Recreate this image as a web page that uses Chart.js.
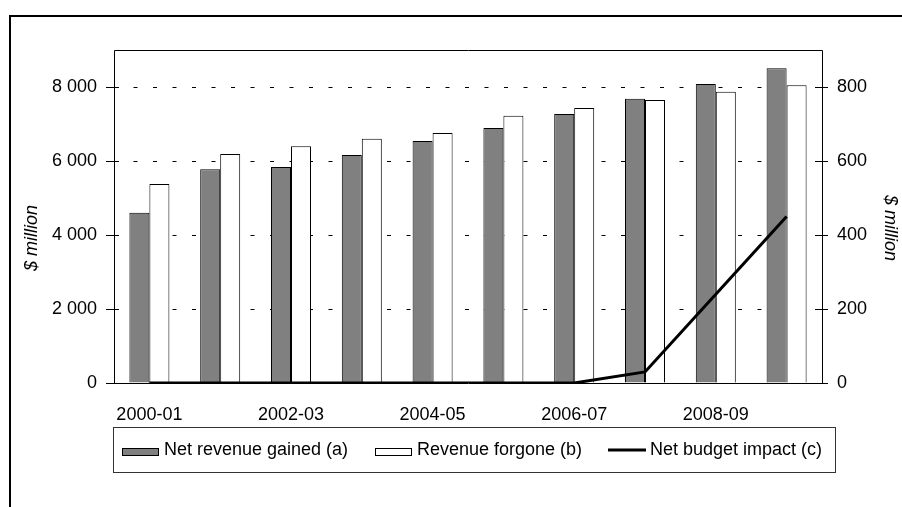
<!DOCTYPE html>
<html><head><meta charset="utf-8">
<script src="https://cdn.jsdelivr.net/npm/chart.js@4.4.1/dist/chart.umd.min.js"></script>
<style>html,body{margin:0;padding:0;background:#fff;}canvas{display:block;}</style>
</head><body>
<canvas id="c" width="902" height="507"></canvas>
<script>
const categories = ['2000-01','2001-02','2002-03','2003-04','2004-05','2005-06','2006-07','2007-08','2008-09','2009-10'];
const netRevenueGained = [4600,5780,5840,6160,6540,6890,7270,7680,8080,8510];
const revenueForgone   = [5380,6190,6400,6600,6760,7220,7430,7650,7870,8050];
const netBudgetImpact  = [0,0,0,0,0,0,0,30,240,450];
const leftTicks  = [0,2000,4000,6000,8000];
const rightTicks = [0,200,400,600,800];
const seriesLabels = ['Net revenue gained (a)','Revenue forgone (b)','Net budget impact (c)'];
const axisTitle = '$ million';

const FONT = '"Liberation Sans", Arial, sans-serif';
const fmt = v => String(v).replace(/\B(?=(\d{3})+(?!\d))/g, ' ');

const deco = {
  id: 'deco',
  beforeDraw(chart) {
    const ctx = chart.ctx;
    ctx.save(); ctx.fillStyle = '#fff'; ctx.fillRect(0, 0, chart.width, chart.height); ctx.restore();
  },
  afterDraw(chart) {
    const ctx = chart.ctx, a = chart.chartArea;
    ctx.save();
    ctx.setLineDash([]);
    // outer frame
    ctx.strokeStyle = '#000'; ctx.lineWidth = 2;
    ctx.strokeRect(10, 16, 1000, 600);
    // plot frame
    ctx.lineWidth = 1;
    const L = Math.round(a.left) + 0.5, R = Math.round(a.right) + 0.5, T = Math.round(a.top) + 0.5, B = Math.round(a.bottom) + 0.5;
    ctx.beginPath();
    ctx.moveTo(L, B); ctx.lineTo(L, T); ctx.lineTo(R, T); ctx.lineTo(R, B);
    ctx.stroke();
    // tick marks crossing axes
    const y = chart.scales.y, y1 = chart.scales.y1;
    y.ticks.forEach(t => {
      const p = Math.round(y.getPixelForValue(t.value)) + 0.5;
      ctx.beginPath(); ctx.moveTo(a.left - 8, p); ctx.lineTo(a.left + 5, p); ctx.stroke();
    });
    y1.ticks.forEach(t => {
      const p = Math.round(y1.getPixelForValue(t.value)) + 0.5;
      ctx.beginPath(); ctx.moveTo(a.right - 7, p); ctx.lineTo(a.right + 6, p); ctx.stroke();
    });
    // axis titles
    ctx.fillStyle = '#000';
    ctx.font = 'italic 18px ' + FONT;
    ctx.textAlign = 'center'; ctx.textBaseline = 'middle';
    ctx.save(); ctx.translate(32, 238); ctx.rotate(-Math.PI / 2); ctx.fillText(axisTitle, 0, 0); ctx.restore();
    ctx.save(); ctx.translate(890, 228); ctx.rotate(Math.PI / 2); ctx.fillText(axisTitle, 0, 0); ctx.restore();
    // legend
    ctx.strokeStyle = '#333'; ctx.lineWidth = 1;
    ctx.strokeRect(113.5, 427.5, 722, 45);
    ctx.font = '18px ' + FONT;
    ctx.textAlign = 'left'; ctx.textBaseline = 'middle';
    const starts = [122, 375, 608];
    chart.data.datasets.forEach((ds, i) => {
      const x = starts[i];
      if (ds.type === 'line') {
        ctx.strokeStyle = '#000'; ctx.lineWidth = 3;
        ctx.beginPath(); ctx.moveTo(x, 450); ctx.lineTo(x + 38, 450); ctx.stroke();
      } else {
        ctx.fillStyle = ds.backgroundColor;
        ctx.fillRect(x, 448, 37, 8);
        ctx.strokeStyle = '#000'; ctx.lineWidth = 1;
        ctx.strokeRect(x + 0.5, 448.5, 36, 7);
      }
      ctx.fillStyle = '#000';
      ctx.fillText(ds.label, x + 42, 450);
    });
    ctx.restore();
  }
};

new Chart(document.getElementById('c'), {
  data: {
    labels: categories,
    datasets: [
      { type: 'bar', label: seriesLabels[0], data: netRevenueGained, backgroundColor: '#808080', borderColor: '#000', borderWidth: 1, yAxisID: 'y', order: 2 },
      { type: 'bar', label: seriesLabels[1], data: revenueForgone, backgroundColor: '#ffffff', borderColor: '#000', borderWidth: 1, yAxisID: 'y', order: 2 },
      { type: 'line', label: seriesLabels[2], data: netBudgetImpact, borderColor: '#000', borderWidth: 3, pointRadius: 0, tension: 0, fill: false, yAxisID: 'y1', order: 1 }
    ]
  },
  options: {
    responsive: false, animation: false, devicePixelRatio: 1,
    layout: { padding: { top: 50, left: 0, right: 0, bottom: 0 } },
    datasets: { bar: { categoryPercentage: 0.565, barPercentage: 1.0 } },
    plugins: { legend: { display: false }, tooltip: { enabled: false } },
    scales: {
      x: {
        offset: true,
        grid: { display: false, drawTicks: false },
        border: { display: true, color: '#000', width: 1 },
        ticks: {
          autoSkip: false, maxRotation: 0, padding: 21, color: '#000',
          font: { family: FONT, size: 18 },
          callback: function (v, i) { return i % 2 === 0 ? this.getLabelForValue(v) : ''; }
        },
        afterFit: s => { s.height = 124; }
      },
      y: {
        position: 'left', min: 0, max: 9000,
        afterBuildTicks: s => { s.ticks = leftTicks.map(v => ({ value: v })); },
        grid: { color: ctx => ctx.tick && ctx.tick.value === 0 ? 'rgba(0,0,0,0)' : '#000', lineWidth: 1, drawTicks: false },
        border: { display: false, dash: [4, 15.5] },
        ticks: { padding: 17, color: '#000', font: { family: FONT, size: 18 }, callback: v => fmt(v) },
        afterFit: s => { s.width = 114; }
      },
      y1: {
        position: 'right', min: 0, max: 900,
        afterBuildTicks: s => { s.ticks = rightTicks.map(v => ({ value: v })); },
        grid: { drawOnChartArea: false, drawTicks: false },
        border: { display: false },
        ticks: { padding: 15, color: '#000', font: { family: FONT, size: 18 }, callback: v => fmt(v) },
        afterFit: s => { s.width = 80; }
      }
    }
  },
  plugins: [deco]
});
</script>
</body></html>
